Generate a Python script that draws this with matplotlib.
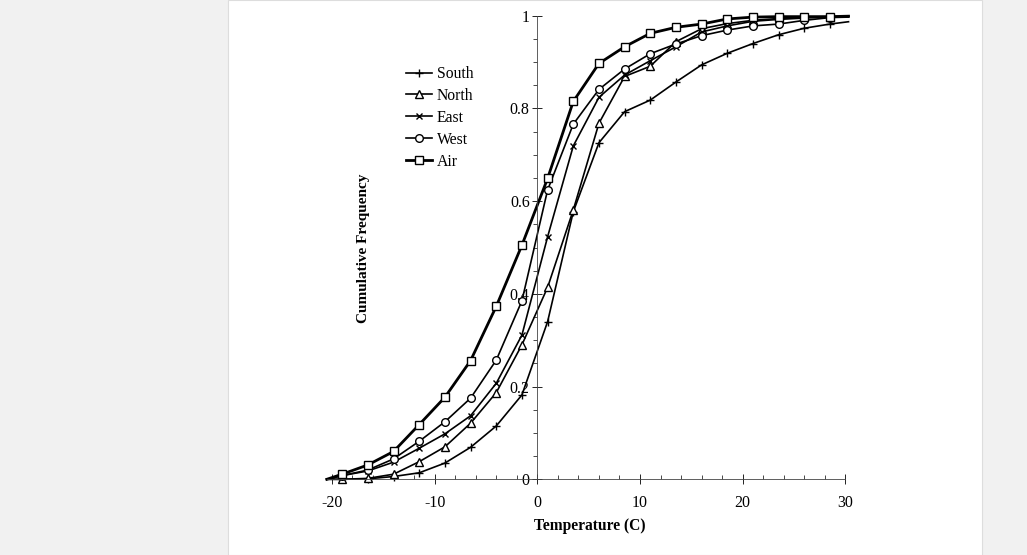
import matplotlib
matplotlib.use('Agg')
import matplotlib.pyplot as plt
from matplotlib.patches import Rectangle
from matplotlib.ticker import MultipleLocator

plt.rcParams['font.family'] = ['Liberation Serif', 'DejaVu Serif']
plt.rcParams['axes.unicode_minus'] = False

# temperature (C); first/last entries are the unmarked line ends
temps = [-20.5, -19, -16.5, -14, -11.5, -9, -6.5, -4, -1.5, 1, 3.5, 6,
         8.5, 11, 13.5, 16, 18.5, 21, 23.5, 26, 28.5, 30.3]

south = [0.0, 0.0, 0.001, 0.006, 0.014, 0.035, 0.069, 0.115, 0.182, 0.340,
         0.577, 0.726, 0.793, 0.818, 0.857, 0.894, 0.919, 0.940, 0.959,
         0.973, 0.982, 0.987]
north = [0.0, 0.0, 0.002, 0.011, 0.038, 0.070, 0.121, 0.187, 0.290, 0.414,
         0.581, 0.768, 0.869, 0.891, 0.944, 0.972, 0.983, 0.990, 0.994,
         0.997, 0.998, 0.999]
east = [0.0, 0.008, 0.018, 0.037, 0.067, 0.098, 0.137, 0.207, 0.311, 0.523,
        0.719, 0.824, 0.872, 0.903, 0.933, 0.965, 0.978, 0.988, 0.992,
        0.995, 0.997, 0.998]
west = [0.0, 0.008, 0.020, 0.044, 0.082, 0.124, 0.175, 0.257, 0.385, 0.624,
        0.766, 0.841, 0.885, 0.918, 0.939, 0.957, 0.969, 0.978, 0.982,
        0.990, 0.996, 0.997]
air = [0.0, 0.011, 0.031, 0.060, 0.118, 0.177, 0.256, 0.373, 0.505, 0.649,
       0.815, 0.897, 0.933, 0.962, 0.975, 0.982, 0.993, 0.997, 0.998,
       0.998, 0.998, 0.999]

series = [
    ('South', south, '+', 1.2),
    ('North', north, '^', 1.2),
    ('East', east, 'x', 1.2),
    ('West', west, 'o', 1.2),
    ('Air', air, 's', 2.0),
]

fig = plt.figure(figsize=(10.27, 5.55), dpi=100, facecolor='#f1f1f1')
# white page panel behind the chart
fig.patches.append(Rectangle((228 / 1027, 0), (982 - 228) / 1027, 1,
                             transform=fig.transFigure, facecolor='white',
                             edgecolor='#dddddd', linewidth=0.8, zorder=-5))

ax = fig.add_axes([0.3182, 0.1364, 0.505, 0.8353])
ax.set_facecolor('none')
ax.set_zorder(2)

for name, vals, mk, lw in series:
    ax.plot(temps, vals, color='black', linewidth=lw, marker=mk,
            markersize=5.5 if mk != 'x' else 5, markerfacecolor='white',
            markeredgecolor='black', markeredgewidth=1.0,
            markevery=slice(1, -1), label=name, clip_on=False)

ax.set_xlim(-20.5, 30)
ax.set_ylim(0, 1)

ax.spines['left'].set_position(('data', 0))
ax.spines['bottom'].set_position(('data', 0))
ax.spines['top'].set_visible(False)
ax.spines['right'].set_visible(False)
for s in ('left', 'bottom'):
    ax.spines[s].set_linewidth(0.6)
    ax.spines[s].set_color('#444444')

ax.xaxis.set_major_locator(MultipleLocator(10))
ax.xaxis.set_minor_locator(MultipleLocator(2))
ax.yaxis.set_minor_locator(MultipleLocator(0.05))
ax.set_yticks([0, 0.2, 0.4, 0.6, 0.8, 1.0])
ax.set_yticklabels(['0', '0.2', '0.4', '0.6', '0.8', '1'])

ax.tick_params(axis='x', which='major', direction='inout', length=7,
               width=0.6, pad=8, labelsize=11.5)
ax.tick_params(axis='x', which='minor', direction='in', length=3, width=0.5)
ax.tick_params(axis='y', which='major', direction='inout', length=7,
               width=0.6, pad=2, labelsize=11.5)
ax.tick_params(axis='y', which='minor', direction='out', length=3, width=0.5)

fig.text(590 / 1027, 1 - 526 / 555, 'Temperature (C)', ha='center',
         va='center', fontsize=11.2, fontweight='bold')
fig.text(364 / 1027, 1 - 248 / 555, 'Cumulative Frequency', ha='center',
         va='center', rotation=90, fontsize=11, fontweight='bold')

ax.legend(loc='upper left', bbox_to_anchor=(406 / 1027, 1 - 66 / 555),
          bbox_transform=fig.transFigure, frameon=False, fontsize=11.3,
          handlelength=1.65, handletextpad=0.3, labelspacing=0.38,
          borderpad=0, borderaxespad=0)

fig.savefig('out.png', dpi=100, facecolor=fig.get_facecolor())
